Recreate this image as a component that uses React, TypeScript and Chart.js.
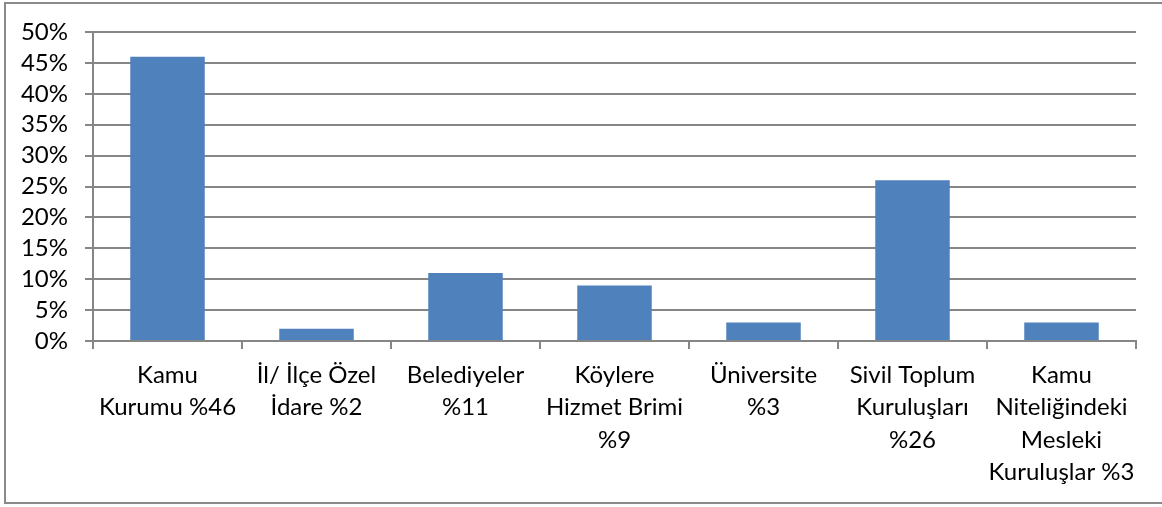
import React, { useEffect, useRef } from "react";
import { Chart, registerables } from "chart.js";

Chart.register(...registerables);

const categories: string[][] = [
  ["Kamu", "Kurumu %46"],
  ["İl/ İlçe Özel", "İdare %2"],
  ["Belediyeler", "%11"],
  ["Köylere", "Hizmet Brimi", "%9"],
  ["Üniversite", "%3"],
  ["Sivil Toplum", "Kuruluşları", "%26"],
  ["Kamu", "Niteliğindeki", "Mesleki", "Kuruluşlar %3"],
];

const values: number[] = [46, 2, 11, 9, 3, 26, 3];

const yTicks: number[] = [0, 5, 10, 15, 20, 25, 30, 35, 40, 45, 50];

const W = 1162;
const H = 507;
const FONT = "Lato, 'Open Sans', sans-serif";
const GRID = "#868686";

const borderPlugin = {
  id: "outerBorder",
  afterDraw(chart: any) {
    const ctx = chart.ctx;
    ctx.save();
    ctx.strokeStyle = "#8a8a8a";
    ctx.lineWidth = 2;
    ctx.strokeRect(5, 3, W + 10, 500);
    ctx.restore();
  },
};

export default function App() {
  const ref = useRef<HTMLCanvasElement | null>(null);

  useEffect(() => {
    document.body.style.margin = "0";
    const canvas = ref.current;
    if (!canvas) return;
    const chart = new Chart(canvas, {
      type: "bar",
      data: {
        labels: categories,
        datasets: [
          {
            data: values,
            backgroundColor: "#4F81BD",
            borderWidth: 0,
            barPercentage: 1,
            categoryPercentage: 0.5,
          },
        ],
      },
      options: {
        responsive: false,
        animation: false,
        layout: { padding: { left: 0, right: 26, top: 32, bottom: 0 } },
        plugins: {
          legend: { display: false },
          tooltip: { enabled: false },
        },
        scales: {
          x: {
            offset: true,
            grid: {
              offset: true,
              drawOnChartArea: false,
              drawTicks: true,
              tickLength: 8,
              color: GRID,
              lineWidth: 2,
            },
            border: { display: true, color: GRID, width: 2 },
            ticks: {
              color: "#000",
              font: { family: FONT, size: 24, lineHeight: "32.5px" as any },
              padding: 10,
              maxRotation: 0,
              autoSkip: false,
            },
            afterFit(scale: any) {
              scale.height = H - 341;
            },
          },
          y: {
            min: 0,
            max: 50,
            afterBuildTicks(scale: any) {
              scale.ticks = yTicks.map((v) => ({ value: v }));
            },
            grid: {
              color: GRID,
              lineWidth: 2,
              tickLength: 8,
              drawTicks: true,
            },
            border: { display: true, color: GRID, width: 2 },
            ticks: {
              color: "#000",
              font: { family: FONT, size: 24 },
              padding: 17,
              autoSkip: false,
              callback: (v: any) => v + "%",
            },
            afterFit(scale: any) {
              scale.width = 93;
            },
          },
        },
      },
      plugins: [borderPlugin],
    });
    return () => chart.destroy();
  }, []);

  return (
    <div style={{ position: "absolute", left: 0, top: 0, width: W, height: H }}>
      <canvas ref={ref} width={W} height={H} style={{ width: W, height: H }} />
    </div>
  );
}
